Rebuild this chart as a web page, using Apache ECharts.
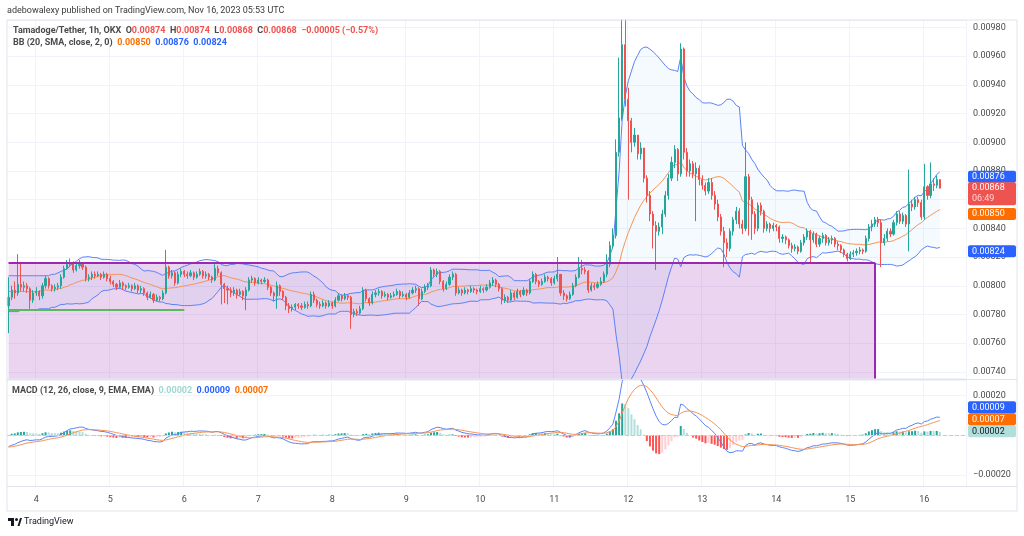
<!DOCTYPE html>
<html><head><meta charset="utf-8">
<script src="https://cdn.jsdelivr.net/npm/echarts@6/dist/echarts.min.js"></script>
<style>html,body{margin:0;padding:0;background:#fff;}#c{width:1024px;height:536px;}</style>
</head><body><div id="c"></div>
<script>
// ---------- data ----------
const startHourUTC = Date.UTC(2023, 10, 3, 15); // first candle: Nov 3 15:00
const slotCount = 311;                            // hourly slots incl. empty right margin
const firstOpen = 0.00786;
const closes = [
0.00792,0.00797,0.00795,0.00801,0.00799,0.00800,0.00798,0.00790,0.00795,0.00796,
0.00793,0.00800,0.00805,0.00800,0.00798,0.00799,0.00800,0.00806,0.00812,0.00815,
0.00816,0.00811,0.00814,0.00815,0.00813,0.00805,0.00806,0.00808,0.00807,0.00808,
0.00806,0.00808,0.00805,0.00803,0.00801,0.00799,0.00802,0.00800,0.00799,0.00800,
0.00798,0.00800,0.00797,0.00798,0.00795,0.00792,0.00794,0.00790,0.00792,0.00791,
0.00795,0.00813,0.00807,0.00809,0.00802,0.00808,0.00810,0.00808,0.00807,0.00809,
0.00806,0.00808,0.00810,0.00807,0.00808,0.00806,0.00804,0.00812,0.00809,0.00801,
0.00798,0.00797,0.00795,0.00797,0.00794,0.00796,0.00793,0.00797,0.00804,0.00805,
0.00802,0.00804,0.00803,0.00804,0.00799,0.00795,0.00793,0.00800,0.00796,0.00792,
0.00786,0.00784,0.00785,0.00787,0.00786,0.00785,0.00787,0.00786,0.00794,0.00790,
0.00787,0.00786,0.00788,0.00786,0.00788,0.00786,0.00790,0.00793,0.00791,0.00793,
0.00792,0.00780,0.00782,0.00781,0.00784,0.00797,0.00791,0.00788,0.00794,0.00795,
0.00796,0.00793,0.00794,0.00792,0.00793,0.00794,0.00796,0.00793,0.00794,0.00792,
0.00795,0.00797,0.00798,0.00791,0.00796,0.00799,0.00800,0.00811,0.00808,0.00810,
0.00803,0.00798,0.00801,0.00806,0.00808,0.00795,0.00797,0.00795,0.00797,0.00796,
0.00798,0.00797,0.00796,0.00798,0.00797,0.00799,0.00802,0.00804,0.00801,0.00798,
0.00790,0.00792,0.00790,0.00795,0.00792,0.00796,0.00794,0.00797,0.00795,0.00803,
0.00808,0.00803,0.00801,0.00803,0.00806,0.00805,0.00802,0.00805,0.00808,0.00795,
0.00793,0.00791,0.00794,0.00800,0.00806,0.00812,0.00811,0.00810,0.00797,0.00800,
0.00799,0.00801,0.00803,0.00808,0.00815,0.00828,0.00835,0.00893,0.00917,0.00968,
0.00930,0.00915,0.00900,0.00905,0.00892,0.00896,0.00875,0.00863,0.00850,0.00842,
0.00838,0.00841,0.00850,0.00863,0.00875,0.00886,0.00895,0.00878,0.00965,0.00893,
0.00880,0.00885,0.00878,0.00882,0.00874,0.00870,0.00866,0.00872,0.00863,0.00857,
0.00848,0.00838,0.00830,0.00826,0.00838,0.00846,0.00852,0.00843,0.00840,0.00876,
0.00860,0.00850,0.00840,0.00856,0.00852,0.00840,0.00843,0.00840,0.00842,0.00841,
0.00833,0.00834,0.00832,0.00828,0.00826,0.00827,0.00824,0.00830,0.00834,0.00838,
0.00832,0.00836,0.00829,0.00833,0.00835,0.00830,0.00832,0.00833,0.00829,0.00828,
0.00825,0.00822,0.00819,0.00822,0.00823,0.00824,0.00825,0.00824,0.00833,0.00841,
0.00843,0.00846,0.00844,0.00830,0.00833,0.00838,0.00836,0.00844,0.00850,0.00845,
0.00849,0.00843,0.00857,0.00855,0.00860,0.00858,0.00848,0.00869,0.00863,0.00871,
0.00870,0.00874,0.00868];
const highs = [
0.00806,0.00800,0.00803,0.00822,0.00816,0.00803,0.00802,0.00799,0.00797,0.00799,
0.00797,0.00802,0.00807,0.00806,0.00801,0.00801,0.00802,0.00808,0.00814,0.00818,
0.00819,0.00817,0.00816,0.00818,0.00816,0.00814,0.00808,0.00810,0.00810,0.00810,
0.00809,0.00810,0.00809,0.00807,0.00804,0.00802,0.00804,0.00803,0.00801,0.00802,
0.00801,0.00802,0.00801,0.00800,0.00799,0.00796,0.00796,0.00795,0.00794,0.00793,
0.00797,0.00825,0.00814,0.00811,0.00810,0.00810,0.00812,0.00811,0.00810,0.00811,
0.00810,0.00810,0.00812,0.00811,0.00810,0.00809,0.00807,0.00815,0.00814,0.00810,
0.00802,0.00800,0.00799,0.00799,0.00798,0.00798,0.00797,0.00799,0.00806,0.00807,
0.00806,0.00806,0.00805,0.00806,0.00805,0.00800,0.00796,0.00803,0.00801,0.00797,
0.00793,0.00788,0.00787,0.00788,0.00788,0.00788,0.00789,0.00789,0.00796,0.00796,
0.00791,0.00789,0.00790,0.00789,0.00790,0.00789,0.00792,0.00795,0.00794,0.00795,
0.00794,0.00793,0.00784,0.00784,0.00786,0.00799,0.00798,0.00792,0.00796,0.00797,
0.00798,0.00797,0.00796,0.00795,0.00795,0.00796,0.00798,0.00797,0.00796,0.00795,
0.00797,0.00799,0.00800,0.00799,0.00798,0.00801,0.00802,0.00813,0.00812,0.00812,
0.00811,0.00804,0.00803,0.00808,0.00810,0.00809,0.00799,0.00798,0.00799,0.00798,
0.00800,0.00799,0.00798,0.00800,0.00799,0.00801,0.00804,0.00806,0.00805,0.00802,
0.00799,0.00794,0.00793,0.00797,0.00796,0.00798,0.00797,0.00799,0.00798,0.00805,
0.00810,0.00809,0.00804,0.00805,0.00808,0.00807,0.00806,0.00807,0.00820,0.00808,
0.00797,0.00794,0.00796,0.00802,0.00808,0.00820,0.00818,0.00813,0.00811,0.00802,
0.00802,0.00803,0.00806,0.00810,0.00822,0.00831,0.00840,0.00902,0.00959,0.01010,
0.00995,0.00938,0.00917,0.00910,0.00905,0.00900,0.00896,0.00877,0.00866,0.00852,
0.00845,0.00844,0.00853,0.00866,0.00878,0.00890,0.00898,0.00896,0.00969,0.00966,
0.00896,0.00888,0.00887,0.00886,0.00884,0.00877,0.00872,0.00875,0.00875,0.00866,
0.00860,0.00850,0.00841,0.00833,0.00840,0.00848,0.00855,0.00854,0.00846,0.00900,
0.00878,0.00862,0.00852,0.00858,0.00858,0.00853,0.00845,0.00844,0.00844,0.00843,
0.00842,0.00836,0.00835,0.00833,0.00830,0.00829,0.00828,0.00832,0.00836,0.00840,
0.00839,0.00838,0.00837,0.00835,0.00837,0.00836,0.00834,0.00835,0.00834,0.00831,
0.00829,0.00826,0.00823,0.00824,0.00825,0.00826,0.00827,0.00826,0.00835,0.00843,
0.00846,0.00848,0.00848,0.00846,0.00836,0.00840,0.00840,0.00846,0.00852,0.00852,
0.00851,0.00850,0.00881,0.00860,0.00862,0.00862,0.00860,0.00885,0.00870,0.00886,
0.00875,0.00877,0.00874];
const lows = [
0.00767,0.00790,0.00791,0.00793,0.00796,0.00796,0.00795,0.00784,0.00788,0.00793,
0.00790,0.00791,0.00798,0.00798,0.00796,0.00796,0.00797,0.00798,0.00805,0.00811,
0.00813,0.00809,0.00810,0.00812,0.00811,0.00803,0.00803,0.00804,0.00805,0.00806,
0.00804,0.00805,0.00803,0.00801,0.00799,0.00797,0.00798,0.00797,0.00797,0.00798,
0.00796,0.00797,0.00795,0.00795,0.00793,0.00790,0.00791,0.00788,0.00789,0.00789,
0.00790,0.00794,0.00805,0.00805,0.00800,0.00801,0.00806,0.00806,0.00805,0.00806,
0.00804,0.00805,0.00807,0.00805,0.00805,0.00804,0.00802,0.00803,0.00807,0.00787,
0.00788,0.00787,0.00792,0.00793,0.00791,0.00793,0.00790,0.00783,0.00796,0.00802,
0.00800,0.00801,0.00801,0.00802,0.00797,0.00793,0.00789,0.00784,0.00793,0.00790,
0.00783,0.00781,0.00782,0.00783,0.00784,0.00783,0.00784,0.00784,0.00785,0.00788,
0.00785,0.00784,0.00785,0.00784,0.00785,0.00784,0.00785,0.00789,0.00789,0.00790,
0.00790,0.00770,0.00778,0.00779,0.00780,0.00783,0.00789,0.00786,0.00787,0.00792,
0.00793,0.00791,0.00792,0.00790,0.00791,0.00792,0.00793,0.00791,0.00792,0.00790,
0.00791,0.00794,0.00795,0.00786,0.00790,0.00795,0.00797,0.00799,0.00806,0.00806,
0.00801,0.00796,0.00797,0.00800,0.00804,0.00793,0.00794,0.00793,0.00794,0.00794,
0.00795,0.00795,0.00794,0.00795,0.00795,0.00796,0.00798,0.00800,0.00799,0.00796,
0.00787,0.00788,0.00788,0.00789,0.00790,0.00791,0.00792,0.00793,0.00793,0.00794,
0.00802,0.00801,0.00799,0.00800,0.00802,0.00803,0.00800,0.00801,0.00803,0.00793,
0.00790,0.00789,0.00790,0.00793,0.00799,0.00805,0.00808,0.00808,0.00795,0.00796,
0.00797,0.00798,0.00800,0.00802,0.00806,0.00813,0.00826,0.00833,0.00890,0.00915,
0.00925,0.00860,0.00893,0.00897,0.00888,0.00888,0.00872,0.00858,0.00845,0.00826,
0.00811,0.00835,0.00836,0.00848,0.00860,0.00873,0.00882,0.00873,0.00876,0.00888,
0.00876,0.00876,0.00875,0.00845,0.00870,0.00867,0.00863,0.00864,0.00860,0.00853,
0.00845,0.00835,0.00813,0.00820,0.00824,0.00835,0.00843,0.00840,0.00836,0.00838,
0.00835,0.00832,0.00836,0.00838,0.00849,0.00837,0.00838,0.00837,0.00838,0.00838,
0.00830,0.00830,0.00829,0.00826,0.00823,0.00824,0.00822,0.00823,0.00828,0.00832,
0.00816,0.00830,0.00827,0.00827,0.00830,0.00828,0.00828,0.00829,0.00827,0.00825,
0.00823,0.00820,0.00817,0.00818,0.00820,0.00821,0.00822,0.00822,0.00823,0.00831,
0.00838,0.00841,0.00841,0.00813,0.00828,0.00831,0.00834,0.00835,0.00842,0.00843,
0.00843,0.00841,0.00824,0.00852,0.00853,0.00855,0.00846,0.00846,0.00860,0.00861,
0.00866,0.00868,0.00868];
// Bollinger values visible on the first candles (window history lies left of the picture)
const bbHeadBasis = [0.00796,0.00796,0.00796,0.00796,0.00796,0.00796,0.00796,0.00796,0.00796,0.00796,0.00796,0.00797,0.00797,0.00797,0.00797,0.00797,0.00798,0.00798,0.00799];
const bbHeadUpper = [0.00807,0.00807,0.00807,0.00807,0.00807,0.00807,0.00807,0.00807,0.00807,0.00807,0.00807,0.00807,0.00807,0.00807,0.00808,0.00808,0.00809,0.00810,0.00811];
const bbHeadLower = [0.00782,0.00782,0.00782,0.00782,0.00783,0.00783,0.00783,0.00783,0.00783,0.00783,0.00784,0.00784,0.00784,0.00784,0.00785,0.00785,0.00786,0.00787,0.00787];
// EMA state just before the first visible candle
const emaSeed12 = 0.00794, emaSeed26 = 0.00800, signalSeed = -0.00006;
// drawings
const boxTopPrice = 0.00816, boxEndIndex = 281;
const trendPrice = 0.00783, trendEndIndex = 57;
// last values shown in legends / badges
const lastBB = {basis: 0.00850, upper: 0.00876, lower: 0.00824};
const lastMacd = {hist: 0.00002, macd: 0.00009, signal: 0.00007};
const lastClose = 0.00868, countdown = '06:49';
// axes
const priceMin = 0.007354, priceMax = 0.009852;
const macdMin = -0.000255, macdMax = 0.0002775;

// ---------- derived ----------
const categories = [];
for (let i = 0; i < slotCount; i++) {
  const d = new Date(startHourUTC + i * 3600000);
  categories.push(d.getUTCDate() + ' ' + String(d.getUTCHours()).padStart(2, '0') + ':00');
}
const opens = closes.map((c, i) => i === 0 ? firstOpen : closes[i - 1]);
const candleData = closes.map((c, i) => [opens[i], c, lows[i], highs[i]]);

const bbBasis = [], bbUpper = [], bbLower = [];
for (let i = 0; i < closes.length; i++) {
  if (i < bbHeadBasis.length) { bbBasis.push(bbHeadBasis[i]); bbUpper.push(bbHeadUpper[i]); bbLower.push(bbHeadLower[i]); continue; }
  const w = closes.slice(i - 19, i + 1);
  const m = w.reduce((a, b) => a + b, 0) / w.length;
  const sd = Math.sqrt(w.reduce((a, b) => a + (b - m) * (b - m), 0) / w.length);
  bbBasis.push(m); bbUpper.push(m + 2 * sd); bbLower.push(m - 2 * sd);
}
const bandWidth = bbUpper.map((u, i) => u - bbLower[i]);

const macd = [], signal = [], hist = [];
let e12 = emaSeed12, e26 = emaSeed26, sg = signalSeed;
for (let i = 0; i < closes.length; i++) {
  e12 = closes[i] * 2 / 13 + e12 * 11 / 13;
  e26 = closes[i] * 2 / 27 + e26 * 25 / 27;
  const m = e12 - e26;
  sg = m * 2 / 10 + sg * 8 / 10;
  macd.push(m); signal.push(sg); hist.push(m - sg);
}
const histData = hist.map((h, i) => {
  const p = i > 0 ? hist[i - 1] : h;
  const col = h >= 0 ? (p < h ? '#26a69a' : '#b2dfdb') : (p < h ? '#ffcdd2' : '#ff5252');
  return {value: h, itemStyle: {color: col}};
});

// ---------- chart ----------
const FONT = 'Roboto, "Noto Sans", sans-serif';
const isDayStart = (idx, v) => / 00:00$/.test(v);
const grid = '#f0f3fa';
const blue = '#5b82f7', orange = '#f79454';
const onStep = (v, s) => Math.abs(v / s - Math.round(v / s)) < 1e-6;
const fmt = v => (v < 0 ? '\u2212' : '') + Math.abs(v).toFixed(5);

const chart = echarts.init(document.getElementById('c'), null, {renderer: 'canvas'});
const option = {
  animation: false,
  backgroundColor: '#ffffff',
  textStyle: {fontFamily: FONT},
  title: [
    {left: 13, top: 25, padding: 0,
     text: '{g|Tamadoge/Tether, 1h, OKX}  {g|O}{r|0.00874}  {g|H}{r|0.00874}  {g|L}{r|0.00868}  {g|C}{r|0.00868}  {r|\u22120.00005 (\u22120.57%)}',
     textStyle: {fontSize: 9, fontFamily: FONT, lineHeight: 11, rich: {
       g: {color: '#4a4a4a', fontSize: 9, fontFamily: FONT}, r: {color: '#ef5350', fontSize: 9, fontFamily: FONT}}}},
    {left: 13, top: 37, padding: 0,
     text: '{g|BB (20, SMA, close, 2, 0)}  {o|0.00850}  {b|0.00876}  {b|0.00824}',
     textStyle: {fontSize: 9, fontFamily: FONT, lineHeight: 11, rich: {
       g: {color: '#4a4a4a', fontSize: 9, fontFamily: FONT}, o: {color: '#ff6d00', fontSize: 9, fontFamily: FONT},
       b: {color: '#2962ff', fontSize: 9, fontFamily: FONT}}}},
    {left: 12, top: 385, padding: 0,
     text: '{g|MACD (12, 26, close, 9, EMA, EMA)}  {t|0.00002}  {b|0.00009}  {o|0.00007}',
     textStyle: {fontSize: 9, fontFamily: FONT, lineHeight: 11, rich: {
       g: {color: '#4a4a4a', fontSize: 9, fontFamily: FONT}, t: {color: '#9fd8d1', fontSize: 9, fontFamily: FONT},
       b: {color: '#2962ff', fontSize: 9, fontFamily: FONT}, o: {color: '#ff6d00', fontSize: 9, fontFamily: FONT}}}}
  ],
  grid: [
    {left: 7, right: 58, top: 20, height: 358.5},
    {left: 7, right: 58, top: 380, height: 106}
  ],
  xAxis: [
    {type: 'category', gridIndex: 0, data: categories, boundaryGap: true,
     axisLine: {show: false}, axisTick: {show: false}, axisLabel: {show: false},
     splitLine: {show: true, interval: isDayStart, lineStyle: {color: grid, width: 1}}},
    {type: 'category', gridIndex: 1, data: categories, boundaryGap: true,
     axisLine: {show: false}, axisTick: {show: false},
     axisLabel: {show: true, interval: isDayStart, formatter: v => v.split(' ')[0], color: '#4a4a4a', fontSize: 9, fontFamily: FONT, margin: 9},
     splitLine: {show: true, interval: isDayStart, lineStyle: {color: grid, width: 1}}}
  ],
  yAxis: [
    {type: 'value', gridIndex: 0, position: 'right', min: priceMin, max: priceMax, splitNumber: 12,
     axisLine: {show: false}, axisTick: {show: false},
     axisLabel: {color: '#4a4a4a', fontSize: 9, fontFamily: FONT, margin: 7, showMinLabel: true, showMaxLabel: true,
       formatter: v => onStep(v, 0.0002) ? fmt(v) : ''},
     splitLine: {show: true, lineStyle: {color: grid, width: 1}}},
    {type: 'value', gridIndex: 1, position: 'right', min: macdMin, max: macdMax, splitNumber: 3,
     axisLine: {show: false}, axisTick: {show: false},
     axisLabel: {color: '#4a4a4a', fontSize: 9, fontFamily: FONT, margin: 7,
       formatter: v => onStep(v, 0.0002) ? fmt(v) : ''},
     splitLine: {show: true, lineStyle: {color: grid, width: 1}}}
  ],
  series: [
    {type: 'line', name: 'bbLower', xAxisIndex: 0, yAxisIndex: 0, data: bbLower, stack: 'bb', symbol: 'none',
     lineStyle: {color: blue, width: 1}, z: 2, silent: true, clip: true},
    {type: 'line', name: 'bbBand', xAxisIndex: 0, yAxisIndex: 0, data: bandWidth, stack: 'bb', symbol: 'none',
     lineStyle: {color: blue, width: 1}, areaStyle: {color: 'rgba(33,150,243,0.06)'}, z: 2, silent: true, clip: true},
    {type: 'line', name: 'bbBasis', xAxisIndex: 0, yAxisIndex: 0, data: bbBasis, symbol: 'none',
     lineStyle: {color: orange, width: 1}, z: 2, silent: true, clip: true},
    {type: 'candlestick', name: 'price', xAxisIndex: 0, yAxisIndex: 0, data: candleData, barWidth: 1.6, z: 3, clip: true,
     itemStyle: {color: '#26a69a', color0: '#ef5350', borderColor: '#26a69a', borderColor0: '#ef5350', borderWidth: 1},
     markLine: {silent: true, symbol: 'none', label: {show: false}, animation: false,
       data: [
         {yAxis: lastClose, lineStyle: {color: '#ef5350', type: 'dotted', width: 1}},
         [{coord: [0, trendPrice], lineStyle: {color: '#5cb85f', width: 2, type: 'solid'}}, {coord: [trendEndIndex, trendPrice]}]
       ]}},
    {type: 'line', name: 'box', xAxisIndex: 0, yAxisIndex: 0, data: [], z: 5, silent: true,
     markArea: {silent: true, itemStyle: {color: 'rgba(156,39,176,0.2)'},
       data: [[{coord: [0, boxTopPrice]}, {coord: [boxEndIndex, priceMin]}]]},
     markLine: {silent: true, symbol: 'none', label: {show: false}, lineStyle: {color: '#9c27b0', width: 2, type: 'solid'},
       data: [
         [{coord: [0, boxTopPrice]}, {coord: [boxEndIndex, boxTopPrice]}],
         [{coord: [boxEndIndex, boxTopPrice]}, {coord: [boxEndIndex, priceMin]}]
       ]}},
    {type: 'bar', name: 'hist', xAxisIndex: 1, yAxisIndex: 1, data: histData, barWidth: 2, z: 2,
     markLine: {silent: true, symbol: 'none', label: {show: false},
       data: [{yAxis: lastMacd.hist, lineStyle: {color: '#c8cbd0', type: 'dashed', width: 1}}]}},
    {type: 'line', name: 'macd', xAxisIndex: 1, yAxisIndex: 1, data: macd, symbol: 'none',
     lineStyle: {color: blue, width: 1}, z: 3, clip: true},
    {type: 'line', name: 'signal', xAxisIndex: 1, yAxisIndex: 1, data: signal, symbol: 'none',
     lineStyle: {color: orange, width: 1}, z: 3, clip: true}
  ]
};
chart.setOption(option);

// ---------- frame, badges, logo ----------
const frameColor = '#e0e3eb';
const g = [
  // white strip above the price pane (header area)
  {type: 'rect', shape: {x: 0, y: 0, width: 1024, height: 19.5}, style: {fill: '#ffffff'}, z: 90},
  {type: 'rect', shape: {x: 7, y: 20, width: 1010, height: 491}, style: {fill: 'none', stroke: frameColor, lineWidth: 1}, z: 100},
  {type: 'line', shape: {x1: 7, y1: 379.5, x2: 1017, y2: 379.5}, style: {stroke: frameColor, lineWidth: 1}, z: 100},
  {type: 'line', shape: {x1: 7, y1: 486.5, x2: 1017, y2: 486.5}, style: {stroke: frameColor, lineWidth: 1}, z: 100},
  {type: 'text', x: 7, y: 10.5, style: {text: 'adebowalexy published on TradingView.com, Nov 16, 2023 05:53 UTC',
    fill: '#3a3a3a', font: '9px ' + FONT, textVerticalAlign: 'middle'}, z: 101}
];
function badge(yc, bg, lines, txt, sub) {
  const h = 12 + (lines.length - 1) * 11;
  g.push({type: 'rect', shape: {x: 968, y: yc - 6, width: 48, height: h, r: 2}, style: {fill: bg}, z: 110});
  lines.forEach((t, k) => g.push({type: 'text', x: 972, y: yc + k * 11,
    style: {text: t, fill: k === 0 ? txt : sub, font: '9px ' + FONT, textVerticalAlign: 'middle'}, z: 111}));
}
const py = v => chart.convertToPixel({yAxisIndex: 0}, v);
const my = v => chart.convertToPixel({yAxisIndex: 1}, v);
badge(py(lastBB.upper), '#2962ff', [fmt(lastBB.upper)], '#ffffff');
badge(py(lastClose), '#ef5350', [fmt(lastClose), countdown], '#ffffff', '#fbd5d5');
badge(py(lastBB.basis), '#ff6d00', [fmt(lastBB.basis)], '#ffffff');
badge(py(lastBB.lower), '#2962ff', [fmt(lastBB.lower)], '#ffffff');
// MACD pane badges stacked upward to avoid overlap
const mb = [
  {v: lastMacd.hist, bg: '#b2dfdb', c: '#131722'},
  {v: lastMacd.signal, bg: '#ff6d00', c: '#ffffff'},
  {v: lastMacd.macd, bg: '#2962ff', c: '#ffffff'}
].map(o => Object.assign(o, {y: my(o.v)})).sort((a, b) => b.y - a.y);
let limit = Infinity;
mb.forEach(o => { const y = Math.min(o.y, limit); limit = y - 12; badge(y, o.bg, [fmt(o.v)], o.c); });
// TradingView logo
g.push({type: 'rect', shape: {x: 8, y: 518, width: 6, height: 3}, style: {fill: '#131722'}, z: 120});
g.push({type: 'rect', shape: {x: 11, y: 518, width: 3, height: 8}, style: {fill: '#131722'}, z: 120});
g.push({type: 'circle', shape: {cx: 16.5, cy: 519.5, r: 1.5}, style: {fill: '#131722'}, z: 120});
g.push({type: 'polygon', shape: {points: [[17.5, 526], [20, 518], [22, 518], [19.5, 526]]}, style: {fill: '#131722'}, z: 120});
g.push({type: 'text', x: 24, y: 522, style: {text: 'TradingView', fill: '#131722', font: '9px ' + FONT, textVerticalAlign: 'middle'}, z: 120});
chart.setOption({graphic: g});
</script>
</body></html>
